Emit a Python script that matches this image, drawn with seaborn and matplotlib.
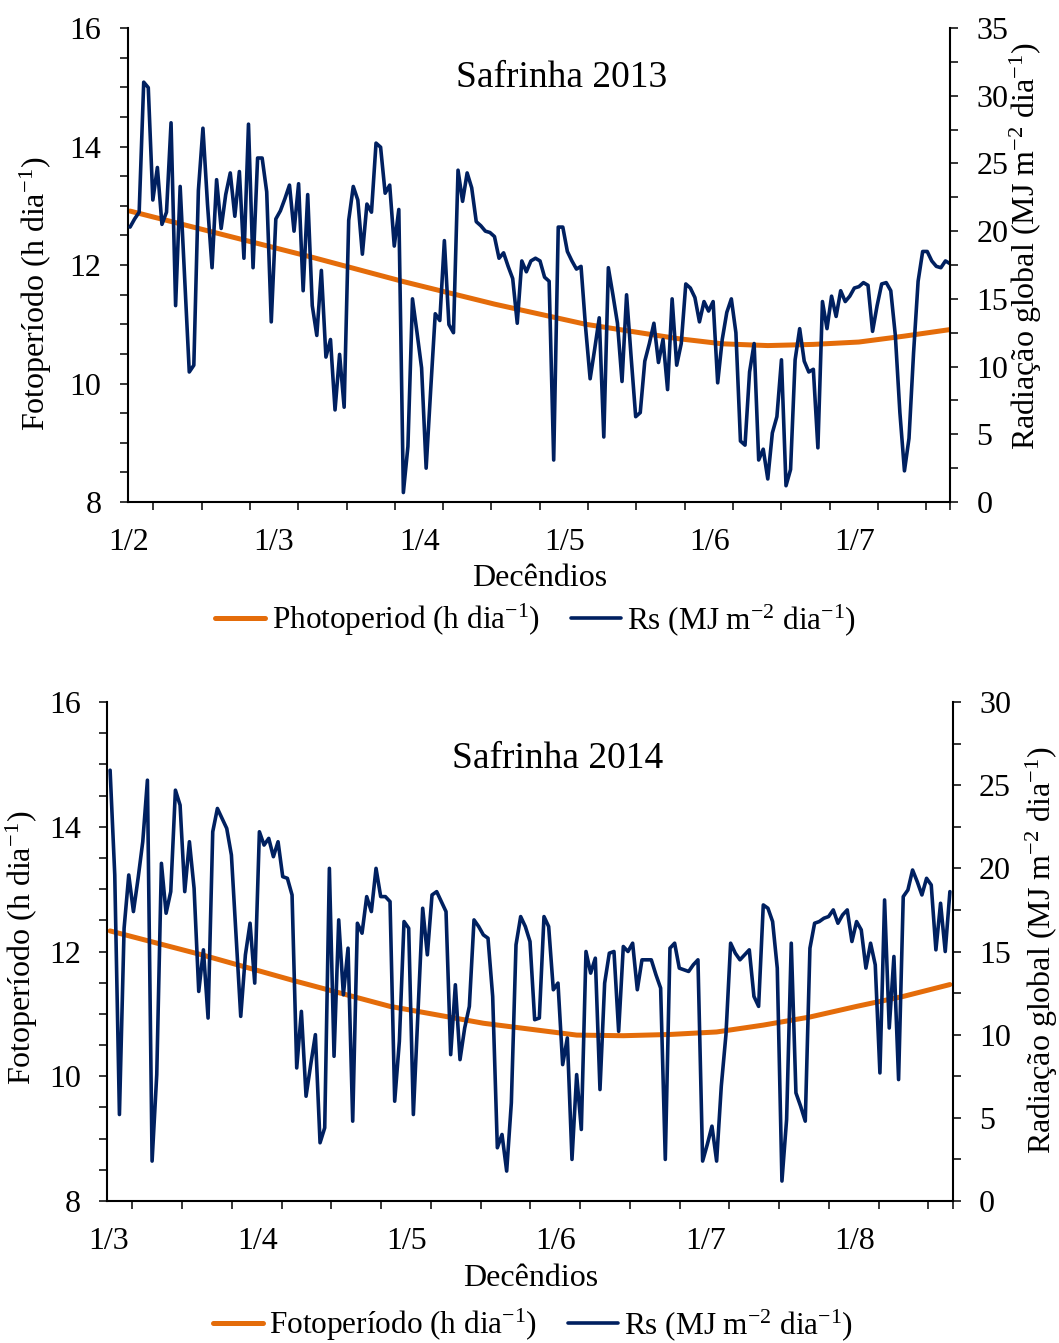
import numpy as np
import pandas as pd
import matplotlib
matplotlib.use('Agg')
import matplotlib.pyplot as plt
import seaborn as sns
from matplotlib.ticker import MultipleLocator, FixedLocator, NullFormatter

# Radiação global diária (MJ m-2 dia-1)
rs_2013 = [20.3, 20.9, 21.4, 31.0, 30.6, 22.3, 24.7, 20.5, 21.4, 28.0,
           14.5, 23.3, 16.5, 9.6, 10.1, 23.0, 27.6, 22.0, 17.3, 23.8,
           20.2, 22.7, 24.3, 21.1, 24.4, 18.0, 27.9, 17.3, 25.4, 25.4,
           22.9, 13.3, 20.9, 21.5, 22.4, 23.4, 20.0, 23.5, 15.6, 22.7,
           14.5, 12.3, 17.1, 10.7, 12.0, 6.8, 10.9, 7.0, 20.8, 23.3,
           22.3, 18.3, 22.0, 21.4, 26.5, 26.2, 22.8, 23.4, 18.9, 21.6,
           0.7, 4.1, 15.0, 12.5, 9.9, 2.5, 8.3, 13.9, 13.4, 19.3,
           13.1, 12.5, 24.5, 22.2, 24.3, 23.2, 20.7, 20.4, 20.0, 19.9,
           19.6, 18.0, 18.4, 17.4, 16.5, 13.2, 17.8, 17.0, 17.8, 18.0,
           17.8, 16.6, 16.3, 3.1, 20.3, 20.3, 18.5, 17.8, 17.2, 17.4,
           12.9, 9.1, 11.3, 13.6, 4.8, 17.3, 15.3, 13.2, 8.9, 15.3,
           10.7, 6.3, 6.6, 10.4, 11.7, 13.2, 10.3, 12.0, 8.3, 15.0,
           10.1, 11.7, 16.1, 15.8, 15.1, 13.3, 14.8, 14.1, 14.8, 8.8,
           12.0, 14.0, 15.0, 12.5, 4.5, 4.2, 9.6, 11.7, 3.1, 3.9,
           1.7, 5.1, 6.3, 10.5, 1.2, 2.4, 10.5, 12.8, 10.4, 9.6,
           9.8, 4.0, 14.8, 12.8, 15.2, 13.7, 15.6, 14.8, 15.2, 15.8,
           15.9, 16.2, 16.0, 12.6, 14.5, 16.1, 16.2, 15.6, 12.3, 6.6,
           2.3, 4.7, 11.0, 16.3, 18.5, 18.5, 17.8, 17.4, 17.3, 17.8,
           17.6]

rs_2014 = [25.9, 19.6, 5.2, 16.4, 19.6, 17.4, 19.4, 21.6, 25.3, 2.4,
           7.6, 20.3, 17.3, 18.6, 24.7, 23.8, 18.6, 21.6, 18.8, 12.6,
           15.1, 11.0, 22.2, 23.6, 23.0, 22.4, 20.8, 16.0, 11.1, 14.8,
           16.7, 13.1, 22.2, 21.4, 21.8, 20.7, 21.6, 19.5, 19.4, 18.4,
           8.0, 11.4, 6.3, 8.2, 10.0, 3.5, 4.4, 20.0, 8.7, 16.9,
           12.4, 15.2, 4.8, 16.7, 16.1, 18.3, 17.4, 20.0, 18.3, 18.3,
           18.0, 6.0, 9.6, 16.8, 16.4, 5.2, 11.4, 17.6, 14.8, 18.4,
           18.6, 18.0, 17.4, 8.8, 13.0, 8.5, 10.4, 11.7, 16.9, 16.5,
           16.0, 15.8, 12.3, 3.2, 4.0, 1.8, 5.9, 15.4, 17.1, 16.5,
           15.6, 10.9, 11.0, 17.1, 16.5, 12.7, 13.1, 8.2, 9.8, 2.5,
           7.6, 4.3, 15.0, 13.7, 14.6, 6.7, 13.1, 14.9, 15.0, 10.2,
           15.3, 15.0, 15.5, 12.7, 14.5, 14.5, 14.5, 13.6, 12.8, 2.5,
           15.2, 15.5, 14.0, 13.9, 13.8, 14.2, 14.5, 2.4, 3.4, 4.5,
           2.4, 6.9, 10.0, 15.5, 14.9, 14.5, 14.8, 15.1, 12.3, 11.7,
           17.8, 17.6, 16.8, 14.0, 1.2, 4.9, 15.5, 6.5, 5.7, 4.8,
           15.2, 16.7, 16.8, 17.0, 17.1, 17.5, 16.7, 17.2, 17.5, 15.6,
           16.8, 16.3, 14.0, 15.5, 14.2, 7.7, 18.1, 10.4, 14.7, 7.3,
           18.3, 18.7, 19.9, 19.2, 18.4, 19.4, 19.0, 15.1, 17.9, 15.0,
           18.6]

# Fotoperíodo (h dia-1), lido a cada ~10 dias
foto_dia_2013 = [0, 20, 40, 60, 80, 100, 120, 130, 140, 150, 160, 170, 180]
foto_2013 = [12.91, 12.52, 12.13, 11.72, 11.34, 11.00, 10.76, 10.67, 10.64, 10.66, 10.70, 10.80, 10.91]
foto_dia_2014 = [0, 20, 40, 60, 80, 100, 110, 120, 130, 140, 150, 160, 170, 180]
foto_2014 = [12.33, 11.94, 11.52, 11.12, 10.85, 10.66, 10.65, 10.67, 10.71, 10.82, 10.95, 11.12, 11.28, 11.47]

rotulos_2013 = ['1/2', '1/3', '1/4', '1/5', '1/6', '1/7']
rotulos_2014 = ['1/3', '1/4', '1/5', '1/6', '1/7', '1/8']

laranja = '#E46C0A'
azul = '#002060'

sns.set_style('ticks', {'axes.edgecolor': 'black', 'xtick.color': 'black',
                        'ytick.color': 'black', 'text.color': 'black',
                        'axes.labelcolor': 'black'})
plt.rcParams['font.family'] = ['Liberation Serif', 'DejaVu Serif']
plt.rcParams['mathtext.fontset'] = 'custom'
plt.rcParams['mathtext.rm'] = 'Liberation Serif'
plt.rcParams['mathtext.it'] = 'Liberation Serif:italic'
plt.rcParams['mathtext.bf'] = 'Liberation Serif:bold'

fig = plt.figure(figsize=(10.59, 13.43), dpi=100)


def painel(pos, rs, foto_dia, foto, xlim, rs_max, rotulos, titulo, tit_xy,
           tick_ini, tick_passo, leg_foto, ylab_esq, ylab_dir, leg_xy, xlab_y):
    ax = fig.add_axes(pos)
    ax2 = ax.twinx()

    df_foto = pd.DataFrame({'dia': foto_dia, 'foto': foto})
    df_rs = pd.DataFrame({'dia': np.arange(len(rs)), 'rs': rs})
    sns.lineplot(data=df_foto, x='dia', y='foto', ax=ax, color=laranja,
                 linewidth=3.6, label=leg_foto, legend=False)
    sns.lineplot(data=df_rs, x='dia', y='rs', ax=ax2, color=azul,
                 linewidth=2.6, label=r'Rs (MJ m$^{-2}$ dia$^{-1}$)', legend=False)

    x0, x1 = xlim
    ax.set_xlim(x0, x1)
    ax.set_ylim(8, 16)
    ax2.set_ylim(0, rs_max)

    # marcas de decêndio e rótulos de mês
    marcas = [x0 + (tick_ini + k * tick_passo) * (x1 - x0) for k in range(17)] + [x1]
    pos_rot = [x0 + (0.001 + k * 0.1766) * (x1 - x0) for k in range(len(rotulos))]
    ax.xaxis.set_major_locator(FixedLocator(marcas))
    ax.xaxis.set_major_formatter(NullFormatter())
    ax.set_xticks(pos_rot, minor=True)
    ax.set_xticklabels(rotulos, minor=True)

    ax.yaxis.set_major_locator(MultipleLocator(2))
    ax.yaxis.set_minor_locator(MultipleLocator(0.5))
    ax2.yaxis.set_major_locator(MultipleLocator(5))
    ax2.yaxis.set_minor_locator(MultipleLocator(2.5))

    for a in (ax, ax2):
        a.tick_params(axis='both', which='both', direction='out', length=6,
                      width=1.1, labelsize=23, pad=13)
        a.spines['top'].set_visible(False)
        for s in a.spines.values():
            s.set_linewidth(1.5)
    ax.tick_params(axis='x', which='major', pad=9)
    ax.tick_params(axis='x', which='minor', length=0, pad=19)
    ax.spines['right'].set_visible(False)
    ax2.spines['left'].set_visible(False)
    ax2.spines['bottom'].set_visible(False)

    ax.set_xlabel('')
    ax.set_ylabel(ylab_esq[0], fontsize=23)
    ax.yaxis.set_label_coords(ylab_esq[1], ylab_esq[2])
    ax2.set_ylabel(ylab_dir[0], fontsize=23)
    ax2.yaxis.set_label_coords(ylab_dir[1], ylab_dir[2])

    ax.text(tit_xy[0], tit_xy[1], titulo, transform=ax.transAxes,
            ha='center', va='baseline', fontsize=27)
    ax.text(0.501, xlab_y, 'Decêndios', transform=ax.transAxes,
            ha='center', va='baseline', fontsize=23)

    linhas = [ax.get_lines()[0], ax2.get_lines()[0]]
    ax.legend(linhas, [l.get_label() for l in linhas], loc='center',
              bbox_to_anchor=leg_xy, ncol=2, frameon=False, fontsize=22.5,
              handlelength=1.6, handletextpad=0.2, columnspacing=1.0)
    return ax, ax2


rad_label = r'Radiação global (MJ m$^{-2}$ dia$^{-1}$)'
foto_label = r'Fotoperíodo (h dia$^{-1}$)'

painel([0.12087, 0.62621, 0.77620, 0.35294], rs_2013, foto_dia_2013, foto_2013,
       (-0.45, 180.0), 35, rotulos_2013, 'Safrinha 2013', (0.527, 0.8755),
       0.0308, 0.05876, r'Photoperiod (h dia$^{-1}$)',
       (foto_label, -0.090, 0.44), (rad_label, 1.070, 0.539),
       (0.496, -0.249), -0.177)

painel([0.10132, 0.10573, 0.79830, 0.37156], rs_2014, foto_dia_2014, foto_2014,
       (-0.6, 180.6), 30, rotulos_2014, 'Safrinha 2014', (0.533, 0.868),
       0.0296, 0.05885, foto_label,
       (foto_label, -0.0796, 0.507), (rad_label, 1.084, 0.503),
       (0.5036, -0.2485), -0.170)

fig.savefig('out.png', dpi=100)
